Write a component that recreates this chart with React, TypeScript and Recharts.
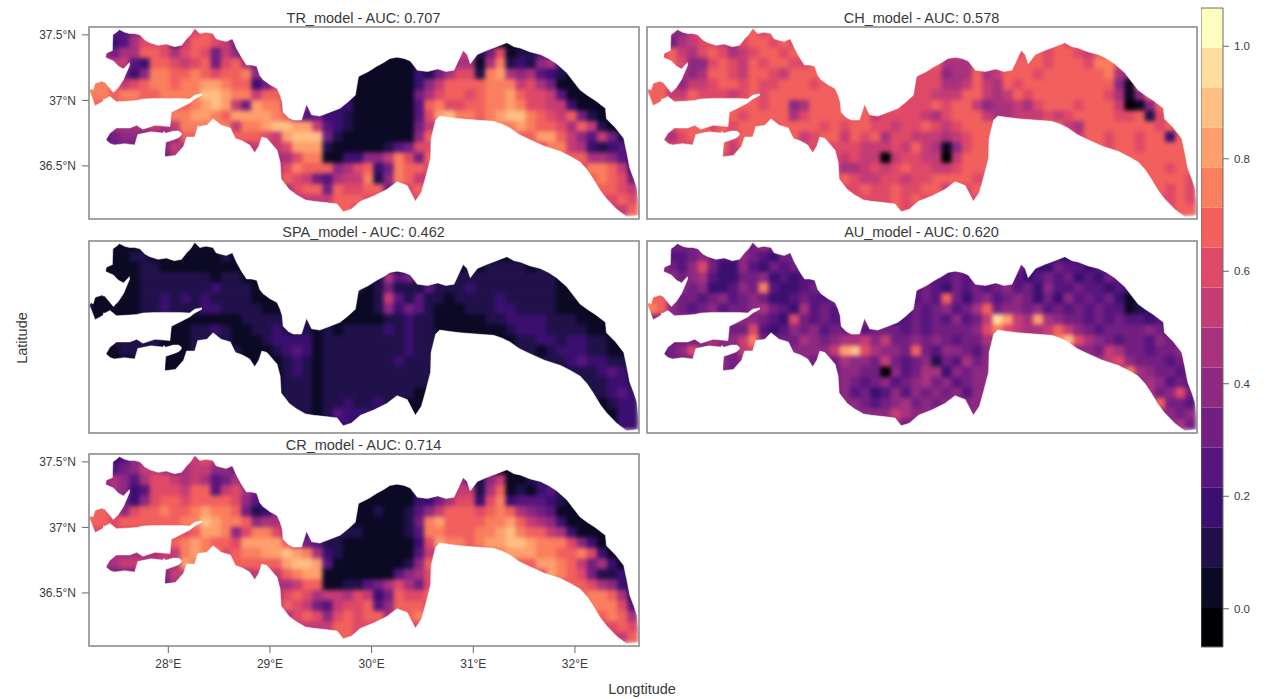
import { Area, ComposedChart, ReferenceArea, Scatter, XAxis, YAxis } from "recharts";

// 16 class raster, codes 0-f index into this palette
const magma = ["#000004", "#0B0924", "#20114B", "#3B0F70", "#57157E", "#721F81", "#8C2981", "#A8327D",
  "#C43C75", "#DE4968", "#F1605D", "#FA7F5E", "#FE9F6D", "#FEBF84", "#FDDEA0", "#FCFDBF"];
const legendBreaks = [-0.068, 0.003, 0.074, 0.145, 0.216, 0.287, 0.358, 0.429, 0.5, 0.571, 0.642, 0.713, 0.784, 0.855, 0.926, 0.997, 1.068];
const legendTicks = [0, 0.2, 0.4, 0.6, 0.8, 1];
const lonTicks = [28, 29, 30, 31, 32];
const latTicks = [36.5, 37, 37.5];

const lonRange = [27.22, 32.63];
const latRange = [36.095, 37.56];
const firstLon = 27.27;
const lonStep = 0.1;
const firstLat = 37.52;
const latStep = 0.08;

// coast, [lon, lat]
const northCoast = [[27.22, 37.07], [27.24, 37.09], [27.26, 37.08], [27.28, 37.13], [27.32, 37.14], [27.36, 37.15], [27.38, 37.32], [27.39, 37.36], [27.45, 37.38], [27.455, 37.5],
  [27.49, 37.52], [27.52, 37.54], [27.57, 37.52], [27.62, 37.51], [27.67, 37.51], [27.72, 37.5], [27.77, 37.46], [27.82, 37.44], [27.9, 37.42], [27.98, 37.43], [28.06, 37.41], [28.13, 37.42], [28.18, 37.47], [28.22, 37.5], [28.26, 37.55],
  [28.31, 37.51], [28.37, 37.52], [28.44, 37.51], [28.47, 37.47], [28.51, 37.46], [28.57, 37.45], [28.63, 37.47], [28.67, 37.4], [28.72, 37.33], [28.77, 37.27], [28.82, 37.27], [28.87, 37.26], [28.9, 37.19], [28.93, 37.16],
  [29.0, 37.12], [29.07, 37.09], [29.1, 37.04], [29.12, 36.99], [29.13, 36.91], [29.18, 36.87], [29.23, 36.85], [29.31, 36.85], [29.36, 36.97], [29.41, 36.89], [29.49, 36.88],
  [29.59, 36.91], [29.69, 36.94], [29.77, 36.99], [29.84, 37.04], [29.87, 37.18], [29.89, 37.19], [29.97, 37.22], [30.05, 37.26], [30.12, 37.29], [30.18, 37.32], [30.25, 37.33], [30.32, 37.32], [30.38, 37.3],
  [30.45, 37.23], [30.55, 37.22], [30.65, 37.24], [30.73, 37.22], [30.81, 37.23], [30.84, 37.28], [30.9, 37.38], [30.94, 37.35], [30.97, 37.28], [31.04, 37.35], [31.13, 37.38],
  [31.23, 37.41], [31.33, 37.44], [31.4, 37.41], [31.46, 37.4], [31.56, 37.37], [31.66, 37.35], [31.74, 37.32], [31.82, 37.28], [31.92, 37.21], [31.98, 37.15], [32.05, 37.08], [32.12, 37.04], [32.2, 37.0], [32.3, 36.94], [32.31, 36.86],
  [32.4, 36.79], [32.48, 36.71], [32.51, 36.6], [32.54, 36.48], [32.58, 36.4], [32.61, 36.33], [32.64, 36.12]];
const southCoast = [[27.22, 37.07], [27.24, 37.04], [27.28, 36.96], [27.33, 36.98], [27.37, 37.0], [27.385, 36.7], [27.43, 36.67], [27.47, 36.66], [27.57, 36.67], [27.67, 36.66],
  [27.7, 36.74], [27.83, 36.76], [27.96, 36.75], [27.965, 36.57], [28.07, 36.58], [28.15, 36.65], [28.18, 36.72], [28.26, 36.72], [28.29, 36.8],
  [28.38, 36.81], [28.44, 36.86], [28.52, 36.81], [28.61, 36.79], [28.66, 36.71], [28.73, 36.69], [28.8, 36.66], [28.85, 36.6], [28.89, 36.65],
  [28.92, 36.72], [28.97, 36.71], [29.07, 36.62], [29.1, 36.53], [29.11, 36.4], [29.19, 36.32], [29.26, 36.28], [29.35, 36.24], [29.43, 36.23], [29.55, 36.22], [29.66, 36.21],
  [29.72, 36.15], [29.8, 36.17], [29.89, 36.23], [30.02, 36.27], [30.15, 36.32], [30.25, 36.38], [30.35, 36.35], [30.43, 36.23], [30.49, 36.3], [30.53, 36.41],
  [30.58, 36.56], [30.585, 36.71], [30.63, 36.85], [30.67, 36.88], [30.77, 36.87], [30.87, 36.86], [31.03, 36.85], [31.2, 36.84], [31.28, 36.82], [31.36, 36.79], [31.45, 36.74], [31.53, 36.71],
  [31.7, 36.65], [31.86, 36.61], [31.96, 36.57], [32.05, 36.53], [32.12, 36.47], [32.18, 36.4], [32.25, 36.31], [32.31, 36.25], [32.41, 36.17], [32.51, 36.11], [32.61, 36.12], [32.64, 36.12]];
// open water inside the outline, [lon, lat low, lat high]
const northBay = [[27.355, 37.14, 37.16], [27.375, 37.14, 37.33], [27.46, 37.06, 37.3], [27.51, 37.1, 37.26], [27.56, 37.16, 37.24], [27.62, 37.27, 37.29]];
const gulf = [[27.36, 36.99, 37.01], [27.38, 36.69, 37.01], [27.425, 36.75, 37.03], [27.49, 36.79, 36.99], [27.62, 36.79, 36.995], [27.69, 36.81, 37.0], [27.75, 36.78, 37.01],
  [27.87, 36.81, 37.015], [28.016, 36.8, 37.015], [28.03, 36.91, 37.015], [28.11, 36.94, 37.015], [28.21, 36.98, 37.01], [28.26, 37.01, 37.04], [28.33, 37.04, 37.05]];
const armChannel = [[27.95, 36.74, 36.76], [27.96, 36.56, 36.76], [27.975, 36.68, 36.75], [28.05, 36.7, 36.766], [28.1, 36.715, 36.766], [28.13, 36.735, 36.75]];

const trRows = [
  "8844688888 9a98888888 8888888888 8888888888 88888888888888",
  "6634799948 aa98555555 2222222222 2222222222 11111111111111",
  "77577aa979 a958633333 2222221111 1111158825 91224311111111",
  "778843aa98 9a59a75432 2222221111 1124457717 b2326732222222",
  "777536bbaa ba9aab6644 3332221111 113257992b c7674321111111",
  "bba89abbab bccbaa3587 5554321111 11368aaaab bb897511111111",
  "bbabbaabbb bddcbb8aa8 6543321111 11579aa9ab bca99841111111",
  "aaaaaaaaaa bcdc85cbb7 5564331111 114ab99aab bcb99883111111",
  "aaaaaaaabb ccbaccccba 6453321111 1149cdbbab cddba98a521111",
  "777777878b bbbb8bbcdd cc84321111 115888888b bbcbaa97a82111",
  "545666666a aaaaaaa98c ddd5211111 116aaaaaaa aaaacca8648522",
  "6555556687 7777778889 ccc2111112 4599999999 99999bb8732344",
  "5555555577 7777777777 9bb1133668 b95aaaaaaa aaaaaaaaa77643",
  "7777777777 7777777779 baaa679a35 baa9999999 999999999bba83",
  "7777777777 777777777a 9854788b26 ba88888888 888888888aba95",
  "7777777777 7777777777 9aa5a99aa5 99aaaaaaaa aaaaaaaaaaaa98",
  "7777777777 7777777777 8888aaa999 9999999999 999999999999a9",
  "7777777777 7777777777 8888aa8888 8888888888 8888888888888a",
];
const chRows = [
  "9966899999 a9a9999999 9999999999 9999999999 aaaaaaaaaaaaaa",
  "8857899879 aa9a999999 9999999999 9999999999 a9999aaaaaaaaa",
  "99a879a978 9aa9aa9999 9999999999 9999999aa9 aa98aa99999999",
  "99a9669a98 a9aa99aaa9 99999999a7 779999aaa9 aaa9bb9a999999",
  "999767aa98 aa98aaaaaa 9999999996 77a78aaa9a aaaaab76aaaaaa",
  "aa96889aa9 a99aaa9aaa 9999999997 78a87a9aaa aaaaaa61aaaaaa",
  "aa88a99989 a9aaaaaaaa aaaaa99988 8aa878a9aa aaaaa9716aaaaa",
  "aaaaaaaaaa a9aa67aaaa aa99a999a9 aa8677879a aa9aaa8016aaaa",
  "aaaaaaaaa9 aaaa79aaaa 9a89999879 aaa8778889 89aaaa99a29aaa",
  "999aaa9a9a aa9aaaa9a9 aa99899a98 9aaaaaaaaa a87aaaaaaa9aaa",
  "8879aaaa9a aaa9a89aa8 a9a7998887 89aaaaaaaa aa8aa9aa9aa3aa",
  "9999999a8a 9999999999 988898a871 69aaaaaaaa aaaaa9aa9aaaaa",
  "9999999989 9999999998 9880899880 8aaaaaaaaa aaaaaaaaaaaaaa",
  "9999999999 9999999997 78989a9988 9aaaaaaaaa aaaaaaaaaaa9aa",
  "9999999999 999999999a 98899899aa aa99999999 999999999aaaa9",
  "9999999999 9999999999 9a99a99aa8 a9a9999999 9999999999a9a9",
  "9999999999 9999999999 9999a9a999 9999999999 999999999999a9",
  "9999999999 9999999999 9999a99999 9999999999 999999999999aa",
];
const spaRows = [
  "1111111111 1111111111 1111111111 1111111111 11111111111111",
  "1111221111 1112111111 1111111111 1111111111 11111111111111",
  "1111122111 1111111111 1111111111 1111111212 22212211111111",
  "1111122222 2212211111 1111111127 4522222222 22222211111111",
  "1111122222 2232221111 1111112125 2224222322 22222211111111",
  "1111122323 2322221111 1111111128 4242212222 32222211111111",
  "1111122322 2332222111 1111111126 3542111222 33222211111111",
  "1111111111 1111122222 2212111112 2322111112 23333222111111",
  "1111111111 2232112232 2212122223 2322111111 12333222211111",
  "1122222111 2222111233 3312222222 2322222222 11223323322111",
  "1112222111 2222211123 4312222222 2322222222 22221233322111",
  "1111111111 1111111112 3212222222 3222222222 22222223433222",
  "1111111111 1111111112 3212222222 2222222222 22222222223432",
  "1111111111 1111111112 2212222222 2222222222 22222222222332",
  "1111111111 1111111112 2212222222 2211111111 11111111122343",
  "1111111111 1111111112 2212232232 2111111111 11111111111233",
  "1111111111 1111111111 2212433322 1111111111 11111111111133",
  "1111111111 1111111111 2222332222 1111111111 11111111111133",
];
const auRows = [
  "5555565555 5655555555 5555555555 5555555555 55555555555555",
  "5544565446 5435555555 4444444444 4444444444 33333344444444",
  "5654695336 4354544444 4444444444 4444445433 54434444444444",
  "5565674335 5634344444 4444444444 5464444345 45343543333333",
  "5556563346 5b43345555 5555554543 5454564536 44544343333333",
  "aa75545645 6533454454 544444454a 5356456535 36454531233333",
  "ba65456455 6754374544 5544435456 457a566564 54545441233333",
  "6666666666 6543954544 5654345454 6458ec87c7 65545454434444",
  "6666666655 9434656455 7455545455 5569b98778 a8654555565255",
  "5555567668 b555576567 7868556565 4557777889 bd976545546555",
  "6456966658 966666668c d97665a546 6546666666 66665875545565",
  "5555555656 6666665557 6658545625 4756666666 66667896555455",
  "5555555656 5555555556 6550645773 6566666666 6666666b765545",
  "5555555555 5555555556 5456456756 4566666666 66666666676454",
  "5555555555 5555555556 4534646565 6466666666 66666666675695",
  "5555555555 5555555556 6545675656 5666666666 6666666666a554",
  "5555555555 5555555555 6666876666 6666666666 66666666666656",
  "5555555555 5555555555 6666755666 6666666666 66666666666675",
];
const crRows = [
  "8834677777 8987777777 7777777777 7777777777 77777777777777",
  "6645688757 8866555555 2222222222 2222222222 11111111111111",
  "6676479987 8745763333 2222221111 1111157526 81123311111111",
  "6676349998 aa48975432 2222221111 1123458827 a1213422222222",
  "6665369aa9 aaaa964433 3332221111 1133579939 b3444321111111",
  "aa969aabaa bcbba52366 5554321121 12468aaa9a ba765411111111",
  "aa9aaaaaab bdcbba6777 6543321111 125bcaaaab bca87631111111",
  "9999999999 accb69bb96 5443222111 124bbaaabb cdbaa873111111",
  "99999999ab cbaa9cccca 7542211111 1139cbbabc cddcbbb9631111",
  "777777788b cbb9abbccd cb73211111 114888888a bcccbbaab93111",
  "667888887c baaaaaaaac ddc4111111 126aaaaaaa aaaaccba857311",
  "6555556688 777777888a bcc1111111 4679999999 99999cba952233",
  "5555555577 7777777777 8aa1122457 9759999999 9999999aa97632",
  "7777777777 7777777779 a978879835 a99aaaaaaa aaaaaaaaabba72",
  "7777777777 777777777a 9854899a46 aaa9999999 999999999bbb94",
  "7777777777 7777777777 9a969a9aa7 aabaaaaaaa aaaaaaaaaaaba7",
  "7777777777 7777777777 8888aa9999 9999999999 999999999999a9",
  "7777777777 7777777777 8888aa8888 8888888888 8888888888888a",
];

const buildCells = (rows: string[]) =>
  rows.flatMap((row, i) =>
    row.replace(/ /g, "").split("").map((code, j) => ({
      lon: firstLon + j * lonStep,
      lat: firstLat - i * latStep,
      level: parseInt(code, 16),
    })),
  );

const northMask = northCoast.map(([lon, lat]) => ({ lon, band: [lat, latRange[1] + 0.02] }));
const southMask = southCoast.map(([lon, lat]) => ({ lon, band: [latRange[0] - 0.02, lat] }));
const waterMask = (list: number[][]) => list.map(([lon, lo, hi]) => ({ lon, band: [lo, hi] }));
const masks = [northMask, southMask, waterMask(northBay), waterMask(gulf), waterMask(armChannel)];

const legendRows = [0, 1].map((x) => {
  const row: Record<string, number | number[]> = { x };
  magma.forEach((_, i) => {
    row[`l${i}`] = [legendBreaks[i], legendBreaks[i + 1]];
  });
  return row;
});

const PANEL_W = 549;
const PANEL_H = 192;
const FONT = "'Liberation Sans', Arial, sans-serif";
const FRAME = "#858585";
const TEXT = "#3a3a3a";
const CHART_W = PANEL_W + 62;
const CHART_H = PANEL_H + 32;

const RasterCell = (props: any) => (
  <rect x={props.cx - 5.5} y={props.cy - 5.6} width={11} height={11.2} fill={magma[props.payload.level]} />
);

const overlay = { position: "absolute" as const, left: 0, top: 0 };

interface PanelProps {
  title: string;
  rows: string[];
  left: number;
  top: number;
  latLabels?: boolean;
  latMarks?: boolean;
  lonMarks?: boolean;
}

function Panel({ title, rows, left, top, latLabels, latMarks, lonMarks }: PanelProps) {
  const cells = buildCells(rows);
  return (
    <>
      <div style={{ position: "absolute", left, top: top - 17, width: PANEL_W, textAlign: "center", font: `14.5px ${FONT}`, color: TEXT }}>
        {title}
      </div>
      <div className="raster" style={{ position: "absolute", left: left - 60, top: top - 1, width: CHART_W, height: CHART_H }}>
        <div style={overlay}>
          <ComposedChart width={CHART_W} height={CHART_H} margin={{ top: 1, right: 1, bottom: 0, left: 0 }}>
            <XAxis
              type="number"
              dataKey="lon"
              domain={lonRange}
              allowDataOverflow
              ticks={lonTicks}
              height={31}
              tick={lonMarks ? { fontSize: 12, fill: TEXT, fontFamily: FONT } : false}
              tickLine={lonMarks ? { stroke: "#666" } : false}
              axisLine={false}
              tickSize={7}
              tickMargin={6}
              tickFormatter={(v: number) => `${v}°E`}
            />
            <YAxis
              type="number"
              dataKey="lat"
              domain={latRange}
              allowDataOverflow
              ticks={latTicks}
              width={60}
              tick={latLabels ? { fontSize: 12, fill: TEXT, fontFamily: FONT } : false}
              tickLine={latMarks ? { stroke: "#666" } : false}
              axisLine={false}
              tickSize={7}
              tickMargin={6}
              tickFormatter={(v: number) => `${v}°N`}
            />
            <Scatter data={cells} shape={RasterCell} isAnimationActive={false} />
          </ComposedChart>
        </div>
        {masks.map((m, i) => (
          <div key={i} style={overlay}>
            <ComposedChart width={CHART_W} height={CHART_H} data={m} margin={{ top: 1, right: 1, bottom: 31, left: 60 }}>
              <XAxis type="number" dataKey="lon" domain={lonRange} allowDataOverflow hide />
              <YAxis type="number" domain={latRange} allowDataOverflow hide />
              <Area dataKey="band" type="linear" fill="#fff" fillOpacity={1} stroke="#fff" strokeWidth={0.5} dot={false} activeDot={false} isAnimationActive={false} />
              {i === masks.length - 1 && (
                <ReferenceArea x1={lonRange[0]} x2={lonRange[1]} y1={latRange[0]} y2={latRange[1]} fill="none" stroke={FRAME} strokeWidth={1.5} ifOverflow="visible" />
              )}
            </ComposedChart>
          </div>
        ))}
      </div>
    </>
  );
}

function Legend() {
  return (
    <div style={{ position: "absolute", left: 1201, top: 7 }}>
      <ComposedChart width={64} height={641} data={legendRows} margin={{ top: 1, right: 0, bottom: 1, left: 0 }}>
        <XAxis type="number" dataKey="x" domain={[0, 1]} hide />
        <YAxis
          type="number"
          orientation="right"
          domain={[legendBreaks[0], legendBreaks[16]]}
          allowDataOverflow
          ticks={legendTicks}
          width={42}
          axisLine={false}
          tick={{ fontSize: 11.5, fill: TEXT, fontFamily: FONT }}
          tickLine={{ stroke: "#666" }}
          tickSize={6}
          tickMargin={5}
          tickFormatter={(v: number) => v.toFixed(1)}
        />
        {magma.map((c, i) => (
          <Area key={c} dataKey={`l${i}`} type="linear" fill={c} fillOpacity={1} stroke="none" dot={false} activeDot={false} isAnimationActive={false} />
        ))}
        <ReferenceArea x1={0} x2={1} y1={legendBreaks[0]} y2={legendBreaks[16]} fill="none" stroke="#6e6e6e" strokeWidth={1} ifOverflow="visible" />
      </ComposedChart>
    </div>
  );
}

export default function App() {
  return (
    <div style={{ position: "absolute", left: 0, top: 0, width: 1265, height: 699, background: "#fff", overflow: "hidden" }}>
      <style>{`.raster .recharts-scatter { filter: blur(2.2px); }`}</style>
      <Panel title="TR_model - AUC: 0.707" rows={trRows} left={89} top={27} latLabels latMarks />
      <Panel title="CH_model - AUC: 0.578" rows={chRows} left={647} top={27} />
      <Panel title="SPA_model - AUC: 0.462" rows={spaRows} left={89} top={241} latMarks />
      <Panel title="AU_model - AUC: 0.620" rows={auRows} left={647} top={241} />
      <Panel title="CR_model - AUC: 0.714" rows={crRows} left={89} top={454} latLabels latMarks lonMarks />
      <Legend />
      <div style={{ position: "absolute", left: 0, top: 681, width: 1284, textAlign: "center", font: `14.5px ${FONT}`, color: TEXT }}>Longtitude</div>
      <div style={{ position: "absolute", left: -28, top: 330, width: 100, textAlign: "center", font: `14.5px ${FONT}`, color: TEXT, transform: "rotate(-90deg)" }}>Latitude</div>
    </div>
  );
}
